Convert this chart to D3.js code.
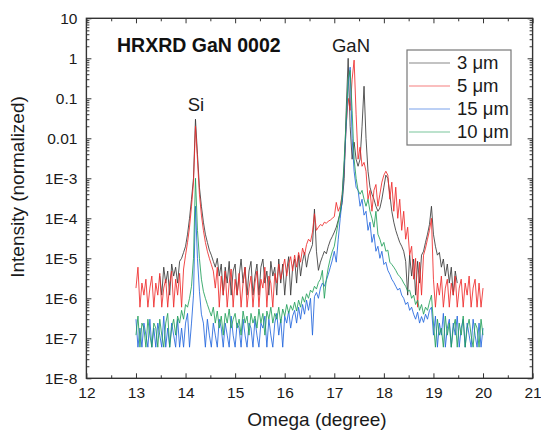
<!DOCTYPE html>
<html>
<head>
<meta charset="utf-8">
<script src="https://cdn.jsdelivr.net/npm/d3@7"></script>
<style>
html, body { margin: 0; padding: 0; background: #fff; }
svg { display: block; font-family: Arial, "Liberation Sans", sans-serif; }
</style>
</head>
<body>
<svg id="chart" width="541" height="430"></svg>
<script>
// scan grid: omega from 13.00 in 0.04 degree steps (176 points, to 20.00)
var omegaStart = 13;
var omegaStep = 0.04;

var xTicks = [12, 13, 14, 15, 16, 17, 18, 19, 20, 21];
var yTicks = [1e-8, 1e-7, 1e-6, 1e-5, 1e-4, 1e-3, 0.01, 0.1, 1, 10];
var yTickLabels = ["1E-8", "1E-7", "1E-6", "1E-5", "1E-4", "1E-3", "0.01", "0.1", "1", "10"];

var seriesNames = ["3 μm", "5 μm", "15 μm", "10 μm"];
var seriesColors = ["#3a3a3a", "#ee2a2a", "#2266dd", "#22a05a"];

// 3 um (ten values per row, row start in comment)
var gan3 = [
  null, null, null, null, null, null, null, null, null, null,                 // 13.00
  null, null, 3.6e-6, 1.2e-6, 6e-6, 2.4e-6, 4.8e-6, 1.2e-6, 7.2e-6, 3.6e-6,   // 13.40
  6e-6, 2.4e-6, 8.4e-6, 1e-5, 1.4e-5, 2e-5, 4e-5, 1e-4, 3e-4, 1e-3,          // 13.80
  0.03, 4e-3, 6e-4, 2e-4, 8e-5, 4e-5, 2.5e-5, 1.6e-5, 1.2e-5, 8.4e-6,        // 14.20
  6e-6, 1e-5, 3.6e-6, 7.2e-6, 1.2e-6, 6e-6, 2.4e-6, 8.4e-6, 1.2e-6, 4.8e-6,  // 14.60
  7.2e-6, 1.2e-6, 3.6e-6, 9.6e-6, 2.4e-6, 6e-6, 1.2e-6, 4.8e-6, 8.4e-6, 1.2e-6, // 15.00
  3.6e-6, 7.2e-6, 1.2e-6, 6e-6, 9.6e-6, 2.4e-6, 4.8e-6, 1.2e-6, 8.4e-6, 3.6e-6, // 15.40
  6e-6, 1.2e-6, 9.6e-6, 2.4e-6, 7.2e-6, 1.2e-6, 4.8e-6, 1.1e-5, 1.2e-6, 6e-6,  // 15.80
  9.6e-6, 2.4e-6, 1.2e-5, 3.6e-6, 8.4e-6, 1.4e-5, 6e-6, 1.2e-5, 1.6e-5, 2.2e-5, // 16.20
  1.7e-4, 1.5e-5, 5e-6, 8e-6, 1.1e-5, 1.5e-5, 1.3e-5, 2e-5, 2.8e-5, 3.5e-5,  // 16.60
  4.5e-5, 6e-5, 9e-5, 1.4e-4, 2.5e-4, 1e-3, 0.05, 1.0, 0.02, 3e-3,           // 17.00
  8e-3, 3e-3, 2e-3, 3e-3, 0.02, 0.2, 0.01, 1.5e-3, 6e-4, 4e-4,               // 17.40
  3e-4, 2e-4, 1.5e-4, 1.8e-4, 3e-4, 6e-4, 1.2e-3, 1e-3, 4e-4, 1.5e-4,        // 17.80
  8e-5, 5e-5, 3.5e-5, 2.5e-5, 2e-5, 1.5e-5, 8.4e-6, 1.2e-6, 1.2e-5, 3.6e-6,  // 18.20
  9.6e-6, 1.2e-6, 8.4e-6, 2.4e-6, 1.2e-5, 1.5e-5, 2.5e-5, 4e-5, 7e-5, 2e-4,  // 18.60
  4e-5, 2e-5, 1.2e-5, 1.4e-5, 6e-6, 9.6e-6, 3.6e-6, 7.2e-6, 2.4e-6, 6e-6,    // 19.00
  1.2e-6, 4.8e-6, 2.4e-6, null, null, null, null, null, null, null,         // 19.40
  null, null, null, null, null, null                                         // 19.80
];

// 5 um
var gan5 = [
  1.8e-6, 6e-6, 6e-7, 2.4e-6, 1.2e-6, 3e-6, 6e-7, 1.8e-6, 3.6e-6, 6e-7,      // 13.00
  2.4e-6, 1.2e-6, 4.2e-6, 6e-7, 1.8e-6, 3e-6, 6e-7, 2.4e-6, 4.8e-6, 6e-7,    // 13.40
  3e-6, 1.2e-6, 4.2e-6, 6e-7, 5.4e-6, 1.2e-5, 2.5e-5, 6e-5, 2e-4, 8e-4,      // 13.80
  0.02, 3e-3, 4e-4, 1.2e-4, 5e-5, 2.5e-5, 1.5e-5, 1e-5, 7e-6, 4.8e-6,        // 14.20
  1.8e-6, 6e-6, 6e-7, 3.6e-6, 1.2e-6, 4.8e-6, 6e-7, 2.4e-6, 5.4e-6, 6e-7,    // 14.60
  3e-6, 1.2e-6, 4.2e-6, 6e-7, 2.4e-6, 6e-6, 6e-7, 1.8e-6, 3.6e-6, 6e-7,      // 15.00
  2.4e-6, 4.8e-6, 6e-7, 3e-6, 1.8e-6, 6e-6, 6e-7, 3.6e-6, 2.4e-6, 6e-7,      // 15.40
  4.2e-6, 2.4e-6, 7.2e-6, 3e-6, 5.4e-6, 9.6e-6, 3.6e-6, 7.2e-6, 1.1e-5, 4.8e-6, // 15.80
  1.2e-5, 6e-6, 1.4e-5, 8e-6, 1.8e-5, 1.2e-5, 2.2e-5, 3e-5, 2.6e-5, 4.5e-5,  // 16.20
  1.3e-4, 5e-5, 6e-5, 7e-5, 6.5e-5, 8e-5, 7.5e-5, 8.5e-5, 9e-5, 1e-4,        // 16.60
  1.1e-4, 2.5e-4, 1.5e-4, 2e-4, 4e-4, 2e-3, 0.02, 0.1, 0.05, 0.3,            // 17.00
  0.9, 0.04, 3e-3, 6e-3, 2e-3, 2.5e-3, 1.5e-3, 3e-4, 5e-4, 1.5e-4,           // 17.40
  5e-4, 7e-4, 2e-4, 4e-4, 8e-4, 1.2e-3, 1.5e-3, 1.2e-3, 3e-4, 8e-4,          // 17.80
  1.5e-4, 6e-4, 1e-4, 3e-4, 5e-5, 1.5e-4, 3e-5, 6e-5, 1.2e-5, 2e-5,          // 18.20
  3e-6, 1e-5, 6e-7, 8e-6, 1.2e-6, 1.2e-5, 1.8e-5, 3e-5, 5e-5, 1e-4,         // 18.60
  3e-6, 6e-7, 2.4e-6, 1.2e-6, 3.6e-6, 6e-7, 1.8e-6, 3e-6, 6e-7, 2.4e-6,      // 19.00
  1.2e-6, 3.6e-6, 6e-7, 1.8e-6, 3e-6, 6e-7, 2.4e-6, 1.2e-6, 3.6e-6, 6e-7,    // 19.40
  1.8e-6, 3e-6, 6e-7, 2.4e-6, 6e-7, 1.8e-6                                   // 19.80
];

// 15 um
var gan15 = [
  3e-7, 6e-8, 1.8e-7, 6e-8, 2.4e-7, 1.2e-7, 6e-8, 3e-7, 6e-8, 1.8e-7,        // 13.00
  6e-8, 2.4e-7, 1.2e-7, 6e-8, 3.6e-7, 6e-8, 1.8e-7, 6e-8, 2.4e-7, 1.2e-7,    // 13.40
  6e-8, 3e-7, 6e-8, 1.8e-7, 6e-8, 2.4e-7, 4.2e-7, 6e-8, 2.4e-7, 1.2e-6,      // 13.80
  2e-4, 1e-5, 1.5e-6, 4e-7, 2.4e-7, 6e-8, 3e-7, 1.2e-7, 6e-8, 2.4e-7,        // 14.20
  1.2e-7, 6e-8, 3e-7, 1.8e-7, 6e-8, 2.4e-7, 1.2e-7, 6e-8, 3.6e-7, 1.2e-7,    // 14.60
  6e-8, 2.4e-7, 1.8e-7, 6e-8, 3e-7, 1.2e-7, 6e-8, 2.4e-7, 1.8e-7, 6e-8,      // 15.00
  3e-7, 1.2e-7, 6e-8, 2.4e-7, 1.8e-7, 3.6e-7, 6e-8, 3e-7, 1.2e-7, 6e-8,      // 15.40
  2.4e-7, 4.2e-7, 1.2e-7, 3e-7, 6e-8, 3.6e-7, 2.4e-7, 4.8e-7, 1.8e-7, 3.6e-7, // 15.80
  5e-7, 2.4e-7, 6e-7, 3e-7, 7e-7, 4e-7, 9e-7, 5e-7, 1e-6, 1.2e-7,           // 16.20
  1.1e-6, 1.4e-6, 1e-6, 1.8e-6, 2.4e-6, 2e-6, 2.8e-6, 4e-6, 6e-6, 9e-6,      // 16.60
  1.5e-5, 8e-6, 3e-5, 1e-4, 3e-4, 2e-3, 0.02, 0.2, 0.6, 0.01,               // 17.00
  1.5e-3, 6e-4, 5e-4, 2e-4, 3e-4, 1.2e-4, 1.5e-4, 5e-5, 8e-5, 2.5e-5,        // 17.40
  4e-5, 1.5e-5, 2e-5, 1e-5, 1.5e-5, 7e-6, 8e-6, 5e-6, 4e-6, 3e-6,           // 17.80
  2.5e-6, 2e-6, 1.6e-6, 1.8e-6, 1.2e-6, 1e-6, 7e-7, 8e-7, 5e-7, 6e-7,        // 18.20
  4e-7, 3e-7, 4.5e-7, 2.4e-7, 3.5e-7, 2.5e-7, 4e-7, 3e-7, 5e-7, 6e-7,        // 18.60
  1.2e-7, 3.6e-7, 6e-8, 2.4e-7, 1.2e-7, 4.2e-7, 6e-8, 1.8e-7, 3e-7, 6e-8,    // 19.00
  2.4e-7, 1.2e-7, 3.6e-7, 6e-8, 1.8e-7, 3e-7, 6e-8, 2.4e-7, 1.2e-7, 6e-8,    // 19.40
  3e-7, 1.2e-7, 6e-8, 2.4e-7, 6e-8, 1.8e-7                                   // 19.80
];

// 10 um
var gan10 = [
  1.2e-7, 3.6e-7, 6e-8, 2.4e-7, 1.8e-7, 6e-8, 3e-7, 1.2e-7, 6e-8, 2.4e-7,    // 13.00
  1.8e-7, 6e-8, 3e-7, 1.2e-7, 6e-8, 2.4e-7, 4.2e-7, 6e-8, 1.8e-7, 3e-7,      // 13.40
  1.2e-7, 3.6e-7, 2.4e-7, 5e-7, 3e-7, 7e-7, 6e-7, 1e-6, 2e-6, 1e-5,          // 13.80
  1e-3, 5e-5, 1e-5, 3e-6, 1.5e-6, 1e-6, 7e-7, 5e-7, 3.6e-7, 6e-7,           // 14.20
  2.4e-7, 4.8e-7, 1.8e-7, 3.6e-7, 1.2e-7, 4.2e-7, 2.4e-7, 5.4e-7, 1.8e-7, 3e-7, // 14.60
  4.2e-7, 1.8e-7, 3e-7, 1.2e-7, 4.8e-7, 2.4e-7, 3.6e-7, 1.2e-7, 4.2e-7, 2.4e-7, // 15.00
  3.6e-7, 1.8e-7, 5.4e-7, 2.4e-7, 4.2e-7, 1.2e-7, 4.8e-7, 3e-7, 6e-7, 2.4e-7, // 15.40
  4.2e-7, 3e-7, 6e-7, 2.4e-7, 5.4e-7, 3.6e-7, 7e-7, 4.2e-7, 6.6e-7, 5e-7,    // 15.80
  8e-7, 4.8e-7, 9e-7, 6e-7, 1.1e-6, 8e-7, 1.3e-6, 1e-6, 1.6e-6, 1.4e-6,      // 16.20
  2e-6, 1.7e-6, 2.5e-6, 3e-6, 5e-6, 1e-6, 3e-6, 6e-6, 1e-5, 1.5e-5,         // 16.60
  2e-5, 4e-5, 8e-5, 1.5e-4, 4e-4, 3e-3, 0.03, 0.3, 0.5, 0.05,               // 17.00
  3e-3, 1e-3, 5e-4, 4e-4, 5e-4, 3e-4, 2e-4, 3e-4, 1.5e-4, 1e-4,             // 17.40
  6e-5, 1.5e-4, 4e-5, 3e-5, 2e-5, 2.5e-5, 1.5e-5, 1.6e-5, 8e-6, 7e-6,        // 17.80
  6e-6, 5e-6, 4e-6, 3.5e-6, 3e-6, 2.4e-6, 2e-6, 1.5e-6, 1.6e-6, 1e-6,        // 18.20
  1.2e-6, 7e-7, 9e-7, 5e-7, 7e-7, 4e-7, 6e-7, 5e-7, 8e-7, 1.2e-6,           // 18.60
  2.4e-7, 6e-8, 3e-7, 1.2e-7, 1.8e-7, 6e-8, 3.6e-7, 1.2e-7, 2.4e-7, 6e-8,    // 19.00
  1.8e-7, 3e-7, 6e-8, 2.4e-7, 1.2e-7, 3.6e-7, 6e-8, 1.8e-7, 3e-7, 1.2e-7,    // 19.40
  6e-8, 2.4e-7, 1.8e-7, 6e-8, 3e-7, 1.2e-7                                   // 19.80
];

var allSeries = [gan3, gan5, gan15, gan10];

function draw() {
    var svg = d3.select("#chart");
    var left = 86.4, right = 532.6, top = 18.3, bottom = 378.3;

    var x = d3.scaleLinear().domain([12, 21]).range([left, right]);
    var y = d3.scaleLog().domain([1e-8, 10]).range([bottom, top]);

    // minor tick positions
    var xMinor = xTicks.slice(0, -1).map(function (d) { return d + 0.5; });
    var yMinor = [];
    for (var k = -8; k < 1; k++) {
        for (var m = 2; m < 10; m++) yMinor.push(m * Math.pow(10, k));
    }

    svg.append("defs").append("clipPath").attr("id", "plotclip")
        .append("rect")
        .attr("x", left).attr("y", top)
        .attr("width", right - left).attr("height", bottom - top);

    // data lines
    var plot = svg.append("g").attr("clip-path", "url(#plotclip)");
    allSeries.forEach(function (vals, si) {
        var pts = vals.map(function (v, i) {
            return { o: omegaStart + omegaStep * i, v: v };
        });
        var line = d3.line()
            .defined(function (d) { return d.v != null; })
            .x(function (d) { return x(d.o); })
            .y(function (d) { return y(d.v); });
        plot.append("path")
            .datum(pts)
            .attr("d", line)
            .attr("fill", "none")
            .attr("stroke", seriesColors[si])
            .attr("stroke-width", 1)
            .attr("stroke-opacity", 0.85)
            .attr("stroke-linejoin", "round");
    });

    function styleAxis(g) {
        g.select(".domain").remove();
        g.attr("color", "#333")
            .attr("font-family", null)
            .attr("font-size", null);
        g.selectAll("text").style("font-size", "15.5px").attr("fill", "#1a1a1a");
    }

    // bottom axis
    svg.append("g")
        .attr("transform", "translate(0," + bottom + ")")
        .call(d3.axisBottom(x).tickValues(xTicks).tickSize(-5).tickPadding(9).tickFormat(d3.format("d")))
        .call(styleAxis);
    svg.append("g")
        .attr("transform", "translate(0," + bottom + ")")
        .call(d3.axisBottom(x).tickValues(xMinor).tickSize(-3).tickFormat(""))
        .call(styleAxis);
    // top axis
    svg.append("g")
        .attr("transform", "translate(0," + top + ")")
        .call(d3.axisTop(x).tickValues(xTicks).tickSize(-5).tickFormat(""))
        .call(styleAxis);
    svg.append("g")
        .attr("transform", "translate(0," + top + ")")
        .call(d3.axisTop(x).tickValues(xMinor).tickSize(-3).tickFormat(""))
        .call(styleAxis);
    // left axis
    svg.append("g")
        .attr("transform", "translate(" + left + ",0)")
        .call(d3.axisLeft(y).tickValues(yTicks).tickSize(-5).tickPadding(9)
            .tickFormat(function (d, i) { return yTickLabels[i]; }))
        .call(styleAxis);
    svg.append("g")
        .attr("transform", "translate(" + left + ",0)")
        .call(d3.axisLeft(y).tickValues(yMinor).tickSize(-3).tickFormat(""))
        .call(styleAxis);
    // right axis
    svg.append("g")
        .attr("transform", "translate(" + right + ",0)")
        .call(d3.axisRight(y).tickValues(yTicks).tickSize(-5).tickFormat(""))
        .call(styleAxis);
    svg.append("g")
        .attr("transform", "translate(" + right + ",0)")
        .call(d3.axisRight(y).tickValues(yMinor).tickSize(-3).tickFormat(""))
        .call(styleAxis);

    // frame
    svg.append("rect")
        .attr("x", left).attr("y", top)
        .attr("width", right - left).attr("height", bottom - top)
        .attr("fill", "none")
        .attr("stroke", "#333")
        .attr("stroke-width", 1.4);

    // axis titles
    svg.append("text")
        .attr("x", 317).attr("y", 426)
        .attr("text-anchor", "middle")
        .style("font-size", "19px")
        .attr("fill", "#1a1a1a")
        .text("Omega (degree)");
    svg.append("text")
        .attr("transform", "translate(24,187) rotate(-90)")
        .attr("text-anchor", "middle")
        .style("font-size", "19px")
        .attr("fill", "#1a1a1a")
        .text("Intensity (normalized)");

    // annotations
    svg.append("text")
        .attr("x", 117).attr("y", 52)
        .style("font-size", "19.5px")
        .style("font-weight", "bold")
        .attr("fill", "#111")
        .text("HRXRD GaN 0002");
    svg.append("text")
        .attr("x", 351).attr("y", 52)
        .attr("text-anchor", "middle")
        .style("font-size", "18.5px")
        .attr("fill", "#1a1a1a")
        .text("GaN");
    svg.append("text")
        .attr("x", 196).attr("y", 111)
        .attr("text-anchor", "middle")
        .style("font-size", "18.5px")
        .attr("fill", "#1a1a1a")
        .text("Si");

    // legend
    var legend = svg.append("g");
    legend.append("rect")
        .attr("x", 407).attr("y", 50)
        .attr("width", 104).attr("height", 95)
        .attr("fill", "#fff")
        .attr("stroke", "#777")
        .attr("stroke-width", 1.2);
    seriesNames.forEach(function (name, i) {
        var ly = 63 + i * 23;
        legend.append("line")
            .attr("x1", 409).attr("x2", 450)
            .attr("y1", ly).attr("y2", ly)
            .attr("stroke", seriesColors[i])
            .attr("stroke-opacity", 0.6)
            .attr("stroke-width", 1.2);
        legend.append("text")
            .attr("x", 457).attr("y", ly)
            .attr("dy", "0.35em")
            .style("font-size", "18.5px")
            .attr("fill", "#1a1a1a")
            .text(name);
    });
}

draw();
</script>
</body>
</html>
